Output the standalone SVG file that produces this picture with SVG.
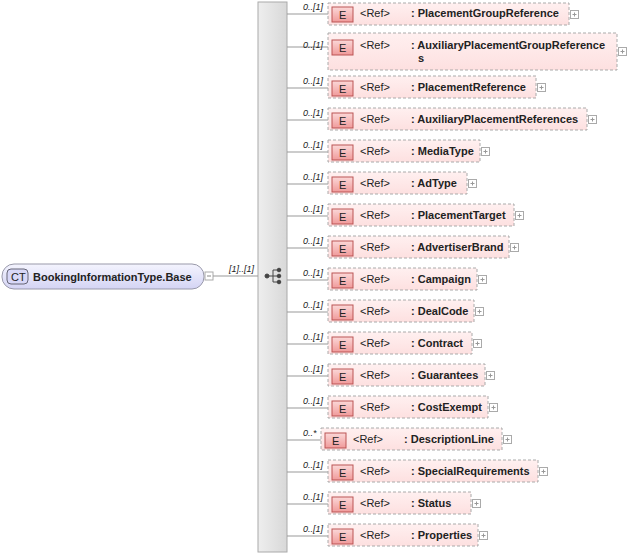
<svg xmlns="http://www.w3.org/2000/svg" xmlns:xlink="http://www.w3.org/1999/xlink" width="628" height="557" viewBox="0 0 628 557">
<defs>
<linearGradient id="gb" x1="0" y1="0" x2="0" y2="1"><stop offset="0" stop-color="#fff0f0"/><stop offset="1" stop-color="#fde0e0"/></linearGradient>
<linearGradient id="ge" x1="0" y1="0" x2="0" y2="1"><stop offset="0" stop-color="#fbd8d8"/><stop offset="1" stop-color="#f09a9a"/></linearGradient>
<linearGradient id="gc" x1="0" y1="0" x2="0" y2="1"><stop offset="0" stop-color="#f4f4fe"/><stop offset="1" stop-color="#d4d4f4"/></linearGradient>
<linearGradient id="gs" x1="0" y1="0" x2="1" y2="0"><stop offset="0" stop-color="#eeeeee"/><stop offset="1" stop-color="#d8d8d8"/></linearGradient>
<g id="pl"><rect x="0.5" y="0.5" width="8" height="8" fill="#fff" stroke="#aaa"/><path d="M2.5 4.5H6.5M4.5 2.5V6.5" stroke="#999"/></g>
</defs>
<style>
text{font-family:"Liberation Sans",Arial,sans-serif;fill:#222}
.b{fill:url(#gb);stroke:#aaa;stroke-dasharray:3,2}
.e{fill:url(#ge);stroke:#b55}
.n{font-size:11px;font-weight:bold}
.r{font-size:11px}
.m{font-size:9px;font-style:italic}
.p{fill:#fff;stroke:#aaa}
.c{stroke:#999;fill:none}
</style>
<rect x="258" y="2" width="29" height="550" fill="url(#gs)" stroke="#aaa"/>
<g id="seqicon" fill="#444" stroke="#444">
<circle cx="267" cy="276" r="2"/><line x1="267" y1="276" x2="273" y2="276"/><line x1="273" y1="270" x2="273" y2="282"/>
<line x1="273" y1="270" x2="278" y2="270"/><line x1="273" y1="276" x2="278" y2="276"/><line x1="273" y1="282" x2="278" y2="282"/>
<circle cx="279" cy="270" r="1.8"/><circle cx="279" cy="276" r="1.8"/><circle cx="279" cy="282" r="1.8"/>
</g>
<g id="root">
<rect x="2" y="264" width="202" height="25" rx="12" fill="url(#gc)" stroke="#99a"/>
<rect x="7" y="269" width="21" height="15" rx="4" fill="#d8d8f8" stroke="#667"/>
<text x="11" y="281" font-size="11" fill="#335">CT</text>
<text x="33" y="281" class="n">BookingInformationType.Base</text>
<rect x="205" y="272" width="8" height="8" class="p"/><line x1="207" y1="276" x2="211" y2="276" stroke="#888"/>
</g>
<g id="connectors">
<line x1="213" y1="276" x2="258" y2="276" class="c"/>
<text x="229" y="272" class="m">[1]..[1]</text>
<path class="c" d="M287 14H328M287 47H328M287 88H328M287 120H328M287 152H328M287 184H328M287 216H328M287 248H328M287 280H328M287 312H328M287 344H328M287 376H328M287 408H328M287 440H321M287 472H328M287 504H328M287 536H328"/>
<g class="m">
<text x="303" y="10">0..[1]</text><text x="303" y="48">0..[1]</text><text x="303" y="84">0..[1]</text><text x="303" y="116">0..[1]</text>
<text x="303" y="148">0..[1]</text><text x="303" y="180">0..[1]</text><text x="303" y="212">0..[1]</text><text x="303" y="244">0..[1]</text>
<text x="303" y="276">0..[1]</text><text x="303" y="308">0..[1]</text><text x="303" y="340">0..[1]</text><text x="303" y="372">0..[1]</text>
<text x="303" y="404">0..[1]</text><text x="303" y="436">0..*</text><text x="303" y="468">0..[1]</text><text x="303" y="500">0..[1]</text>
<text x="303" y="532">0..[1]</text>
</g>
</g>
<g id="n1"><rect class="b" x="328" y="3" width="241" height="22"/><rect class="e" x="332" y="7" width="21" height="15"/><text x="339" y="19" class="r">E</text><text x="360" y="17" class="r">&lt;Ref&gt;</text><text x="411" y="17" class="n">: PlacementGroupReference</text><use href="#pl" x="570" y="10"/></g>
<g id="n2"><rect class="b" x="328" y="33" width="289" height="37"/><rect class="e" x="332" y="40" width="21" height="15"/><text x="339" y="52" class="r">E</text><text x="360" y="49" class="r">&lt;Ref&gt;</text><text x="411" y="49" class="n">: AuxiliaryPlacementGroupReference</text><text x="418" y="62" class="n">s</text><use href="#pl" x="618" y="47"/></g>
<g id="n3"><rect class="b" x="328" y="76" width="208" height="22"/><rect class="e" x="332" y="81" width="21" height="15"/><text x="339" y="93" class="r">E</text><text x="360" y="91" class="r">&lt;Ref&gt;</text><text x="411" y="91" class="n">: PlacementReference</text><use href="#pl" x="537" y="83"/></g>
<g id="n4"><rect class="b" x="328" y="108" width="259" height="22"/><rect class="e" x="332" y="113" width="21" height="15"/><text x="339" y="125" class="r">E</text><text x="360" y="123" class="r">&lt;Ref&gt;</text><text x="411" y="123" class="n">: AuxiliaryPlacementReferences</text><use href="#pl" x="588" y="115"/></g>
<g id="n5"><rect class="b" x="328" y="140" width="152" height="22"/><rect class="e" x="332" y="145" width="21" height="15"/><text x="339" y="157" class="r">E</text><text x="360" y="155" class="r">&lt;Ref&gt;</text><text x="411" y="155" class="n">: MediaType</text><use href="#pl" x="481" y="147"/></g>
<g id="n6"><rect class="b" x="328" y="172" width="139" height="22"/><rect class="e" x="332" y="177" width="21" height="15"/><text x="339" y="189" class="r">E</text><text x="360" y="187" class="r">&lt;Ref&gt;</text><text x="411" y="187" class="n">: AdType</text><use href="#pl" x="468" y="179"/></g>
<g id="n7"><rect class="b" x="328" y="204" width="186" height="22"/><rect class="e" x="332" y="209" width="21" height="15"/><text x="339" y="221" class="r">E</text><text x="360" y="219" class="r">&lt;Ref&gt;</text><text x="411" y="219" class="n">: PlacementTarget</text><use href="#pl" x="515" y="211"/></g>
<g id="n8"><rect class="b" x="328" y="236" width="181" height="22"/><rect class="e" x="332" y="241" width="21" height="15"/><text x="339" y="253" class="r">E</text><text x="360" y="251" class="r">&lt;Ref&gt;</text><text x="411" y="251" class="n">: AdvertiserBrand</text><use href="#pl" x="510" y="243"/></g>
<g id="n9"><rect class="b" x="328" y="268" width="149" height="22"/><rect class="e" x="332" y="273" width="21" height="15"/><text x="339" y="285" class="r">E</text><text x="360" y="283" class="r">&lt;Ref&gt;</text><text x="411" y="283" class="n">: Campaign</text><use href="#pl" x="478" y="275"/></g>
<g id="n10"><rect class="b" x="328" y="300" width="146" height="22"/><rect class="e" x="332" y="305" width="21" height="15"/><text x="339" y="317" class="r">E</text><text x="360" y="315" class="r">&lt;Ref&gt;</text><text x="411" y="315" class="n">: DealCode</text><use href="#pl" x="475" y="307"/></g>
<g id="n11"><rect class="b" x="328" y="332" width="144" height="22"/><rect class="e" x="332" y="337" width="21" height="15"/><text x="339" y="349" class="r">E</text><text x="360" y="347" class="r">&lt;Ref&gt;</text><text x="411" y="347" class="n">: Contract</text><use href="#pl" x="473" y="339"/></g>
<g id="n12"><rect class="b" x="328" y="364" width="157" height="22"/><rect class="e" x="332" y="369" width="21" height="15"/><text x="339" y="381" class="r">E</text><text x="360" y="379" class="r">&lt;Ref&gt;</text><text x="411" y="379" class="n">: Guarantees</text><use href="#pl" x="486" y="371"/></g>
<g id="n13"><rect class="b" x="328" y="396" width="160" height="22"/><rect class="e" x="332" y="401" width="21" height="15"/><text x="339" y="413" class="r">E</text><text x="360" y="411" class="r">&lt;Ref&gt;</text><text x="411" y="411" class="n">: CostExempt</text><use href="#pl" x="489" y="403"/></g>
<g id="n14"><rect class="b" x="321" y="428" width="181" height="22"/><rect class="e" x="325" y="433" width="21" height="15"/><text x="332" y="445" class="r">E</text><text x="353" y="443" class="r">&lt;Ref&gt;</text><text x="404" y="443" class="n">: DescriptionLine</text><use href="#pl" x="503" y="435"/></g>
<g id="n15"><rect class="b" x="328" y="460" width="210" height="22"/><rect class="e" x="332" y="465" width="21" height="15"/><text x="339" y="477" class="r">E</text><text x="360" y="475" class="r">&lt;Ref&gt;</text><text x="411" y="475" class="n">: SpecialRequirements</text><use href="#pl" x="539" y="467"/></g>
<g id="n16"><rect class="b" x="328" y="492" width="143" height="22"/><rect class="e" x="332" y="497" width="21" height="15"/><text x="339" y="509" class="r">E</text><text x="360" y="507" class="r">&lt;Ref&gt;</text><text x="411" y="507" class="n">: Status</text><use href="#pl" x="472" y="499"/></g>
<g id="n17"><rect class="b" x="328" y="524" width="150" height="22"/><rect class="e" x="332" y="529" width="21" height="15"/><text x="339" y="541" class="r">E</text><text x="360" y="539" class="r">&lt;Ref&gt;</text><text x="411" y="539" class="n">: Properties</text><use href="#pl" x="479" y="531"/></g>
</svg>
